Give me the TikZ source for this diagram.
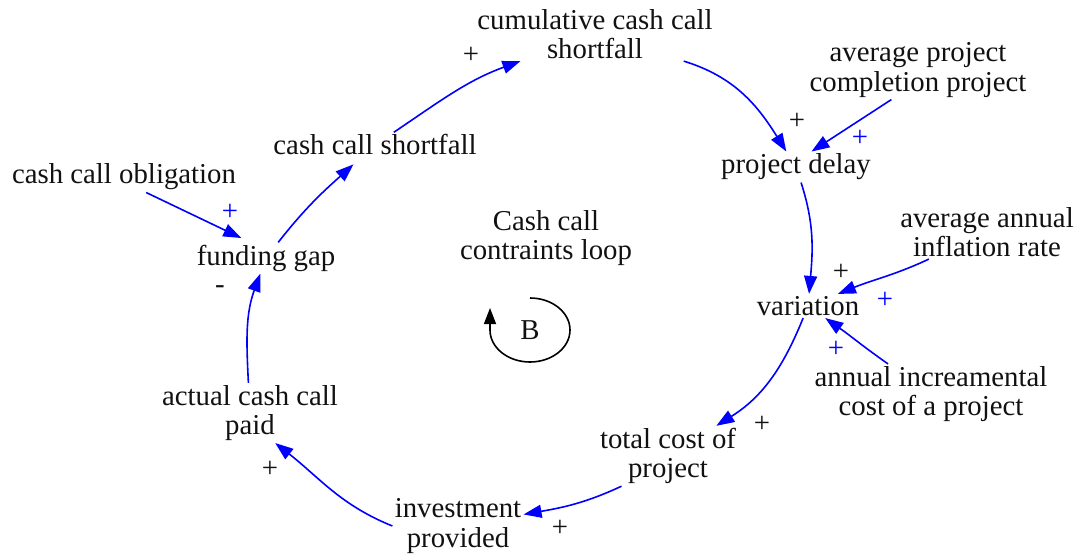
\documentclass[tikz,border=0pt]{standalone}
\usepackage{fontspec}
\setmainfont{Liberation Serif}
\usepackage{tikz}
\usetikzlibrary{arrows.meta,calc}

\definecolor{linkblue}{HTML}{0000FF}
\definecolor{textdark}{HTML}{111111}

\tikzset{
  varname/.style={
    align=center, inner sep=1pt,
    font=\fontsize{14.4pt}{14.6pt}\selectfont, text=textdark
  },
  link/.style={
    -{Triangle[length=9pt,width=6.5pt]}, line width=0.8pt, color=linkblue
  },
  polsign/.style={
    font=\fontsize{14.4pt}{14.6pt}\selectfont, inner sep=0pt, text=#1
  },
  looparrow/.style={
    -{Triangle[length=8pt,width=6pt]}, line width=0.8pt, color=black
  },
}

\begin{document}
\begin{tikzpicture}[x=0.5pt, y=0.5pt]
  \useasboundingbox (0,0) rectangle (1088,553);

  %% Loop variables
  \node[varname] (cum)     at (595,519) {cumulative cash call\\shortfall};
  \node[varname] (ccs)     at (375,408) {cash call shortfall};
  \node[varname] (fgap)    at (266,295) {funding gap};
  \node[varname] (paid)    at (250,140) {actual cash call\\paid};
  \node[varname] (invest)  at (458,27)  {investment\\provided};
  \node[varname] (tcost)   at (668,97)  {total cost of\\project};
  \node[varname] (var)     at (808,247) {variation};
  \node[varname] (delay)   at (796,386) {project delay};

  %% Outside inputs
  \node[varname] (cco)     at (124,376) {cash call obligation};
  \node[varname] (avgcomp) at (918,483) {average project\\completion project};
  \node[varname] (infl)    at (987,321) {average annual\\inflation rate};
  \node[varname] (annual)  at (931,159) {annual increamental\\cost of a project};

  %% Loop name and symbol
  \node[varname] (loopname) at (546,315) {Cash call\\contraints loop};
  \node[varname] (bsym)     at (530,223) {B};
  \draw[looparrow] ($(bsym)+(0,32)$)
    arc[start angle=90, end angle=-180, x radius=20pt, y radius=16pt] -- ++(0,22);

  %% Causal links
  \draw[link] (ccs) to[out=34,in=200] (cum);
  \draw[link, shorten >=5pt] (cco.-35) -- (fgap.135);
  \draw[link, shorten >=5pt] (fgap) to[out=52,in=222] (ccs);
  \draw[link] (cum) to[out=-17,in=122] (delay);
  \draw[link] (avgcomp.-132) -- (delay.45);
  \draw[link] (delay) to[out=-72,in=85] (var);
  \draw[link] (infl) to[out=205,in=22] (var);
  \draw[link] (annual) to[out=145,in=-35] (var);
  \draw[link] (var) to[out=-112,in=32] (tcost);
  \draw[link] (tcost.-147) to[out=-155,in=10] (invest);
  \draw[link] (invest.west) to[out=158,in=-38] (paid.-50);
  \draw[link] (paid) to[out=93,in=-110] (fgap);

  %% Polarities
  \node[polsign=textdark] (p1)  at (471,498) {+};
  \node[polsign=linkblue] (p2)  at (230,341) {+};
  \node[polsign=textdark] (p3)  at (797,432) {+};
  \node[polsign=linkblue] (p4)  at (860,415) {+};
  \node[polsign=textdark] (p5)  at (841,281) {+};
  \node[polsign=linkblue] (p6)  at (885,253) {+};
  \node[polsign=linkblue] (p7)  at (836,204) {+};
  \node[polsign=textdark] (p8)  at (762,129) {+};
  \node[polsign=textdark] (p9)  at (560,25)  {+};
  \node[polsign=textdark] (p10) at (270,84)  {+};
  \node[polsign=textdark] (p11) at (220,263) {-};

\end{tikzpicture}
\end{document}
